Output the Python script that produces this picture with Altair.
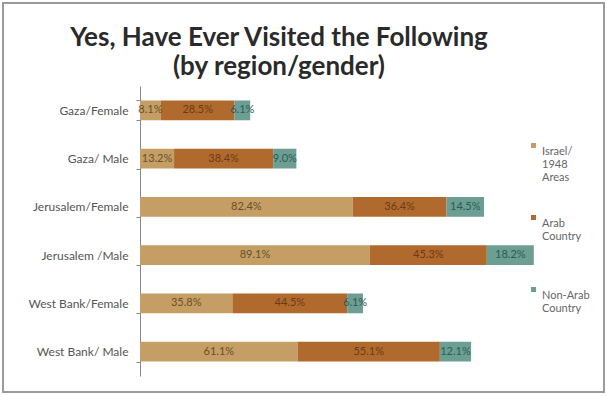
import altair as alt
import pandas as pd

categories = ["Gaza/Female", "Gaza/ Male", "Jerusalem/Female", "Jerusalem /Male",
              "West Bank/Female", "West Bank/ Male"]
series = ["Israel/ 1948 Areas", "Arab Country", "Non-Arab Country"]
israel = [8.1, 13.2, 82.4, 89.1, 35.8, 61.1]
arab = [28.5, 38.4, 36.4, 45.3, 44.5, 55.1]
nonarab = [6.1, 9.0, 14.5, 18.2, 6.1, 12.1]
colors = ["#C49E64", "#B06A2E", "#6C9E94"]
text_colors = ["#6A5028", "#6E3A12", "#2E5C52"]

rows = []
for i, c in enumerate(categories):
    for k, (s, vals) in enumerate(zip(series, [israel, arab, nonarab])):
        rows.append({"cat": c, "series": s, "order": k, "value": vals[i],
                     "label": f"{vals[i]:.1f}%"})
df = pd.DataFrame(rows)

W, H = 400, 290

base = alt.Chart(df).transform_stack(
    stack="value", groupby=["cat"], as_=["v0", "v1"], sort=[alt.SortField("order")]
).transform_calculate(mid="(datum.v0 + datum.v1) / 2")

yenc = alt.Y("cat:N", sort=categories, title=None,
             scale=alt.Scale(paddingInner=0.59, paddingOuter=0.3),
             axis=alt.Axis(labelFont="Lato", labelFontSize=12, labelColor="#555555",
                           labelPadding=8, domainColor="#888888", tickColor="#888888",
                           tickBand="extent", tickSize=4, domainWidth=1))

xscale = alt.Scale(domain=[0, 155], nice=False)

label_expr = ("length(split(datum.label, ' ')) < 3 ? "
              "[split(datum.label, ' ')[0], split(datum.label, ' ')[1], ' '] : "
              "split(datum.label, ' ')")

bars = base.mark_bar().encode(
    y=yenc,
    x=alt.X("v0:Q", scale=xscale, axis=None),
    x2="v1:Q",
    color=alt.Color("series:N", sort=series,
                    scale=alt.Scale(domain=series, range=colors),
                    legend=alt.Legend(title=None, orient="none", legendX=388, legendY=54,
                                      labelExpr=label_expr,
                                      labelFont="Lato", labelFontSize=11,
                                      labelColor="#666666", symbolType="square",
                                      symbolSize=25, rowPadding=29, labelLimit=120,
                                      labelBaseline="top", labelOffset=3)),
)

texts = base.mark_text(font="Lato", fontSize=11).encode(
    y=alt.Y("cat:N", sort=categories),
    x=alt.X("mid:Q", scale=xscale),
    text="label:N",
    color=alt.Color("series:N", sort=series,
                    scale=alt.Scale(domain=series, range=text_colors), legend=None),
)

frame = alt.Chart(alt.Data(values=[{}])).mark_rect(
    fill=None, stroke="#9a9a9a", strokeWidth=2
).encode(x=alt.value(-137), x2=alt.value(464), y=alt.value(-83), y2=alt.value(306))

chart = alt.layer(frame, bars, texts).resolve_scale(color="independent").properties(
    width=W, height=H,
    title=alt.TitleParams(["Yes, Have Ever Visited the Following", "(by region/gender)"],
                          font="Lato", fontSize=26, fontWeight="bold", color="#2a2a2a",
                          anchor="middle", dx=-61, offset=-78, lineHeight=29),
    autosize=alt.AutoSizeParams(type="none"),
    padding={"left": 140, "top": 86, "right": 67, "bottom": 20},
).configure(background="white").configure_view(strokeWidth=0)

chart.save("out.html", embed_options={"renderer": "svg", "actions": False})
